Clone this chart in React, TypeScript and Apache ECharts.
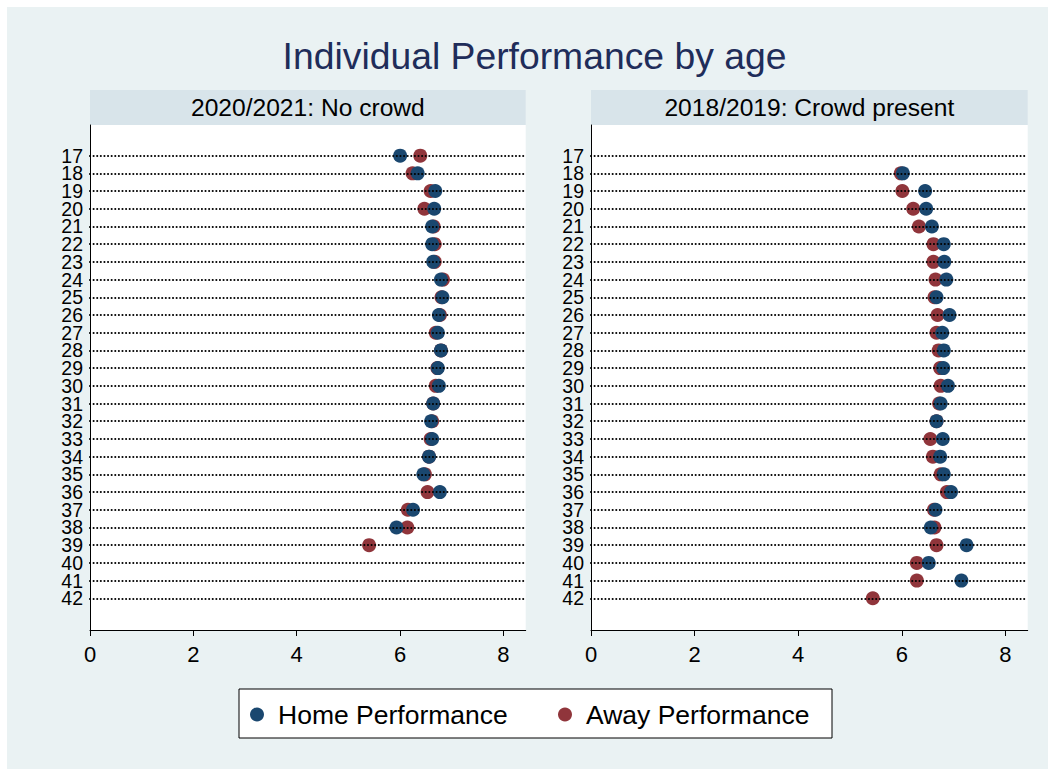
import React, { useEffect, useRef } from "react";
import * as echarts from "echarts";

const FONT = "'Liberation Sans', Arial, Helvetica, sans-serif";

const AGES = [17, 18, 19, 20, 21, 22, 23, 24, 25, 26, 27, 28, 29, 30, 31, 32, 33, 34, 35, 36, 37, 38, 39, 40, 41, 42];
const X_TICKS = [0, 2, 4, 6, 8];

const PANEL_TITLES = ["2020/2021: No crowd", "2018/2019: Crowd present"];
const SERIES_NAMES = ["Home Performance", "Away Performance"];

// 2020/2021: No crowd
const HOME_2021 = [6.0, 6.34, 6.68, 6.66, 6.62, 6.62, 6.64, 6.79, 6.82, 6.75, 6.73, 6.79, 6.73, 6.75, 6.64, 6.6, 6.62, 6.56, 6.45, 6.77, 6.25, 5.93, null, null, null, null];
const AWAY_2021 = [6.39, 6.24, 6.59, 6.47, 6.65, 6.67, 6.67, 6.83, 6.8, 6.77, 6.69, 6.79, 6.72, 6.69, 6.64, 6.62, 6.59, 6.56, 6.48, 6.53, 6.15, 6.14, 5.4, null, null, null];

// 2018/2019: Crowd present
const HOME_1819 = [null, 6.02, 6.45, 6.47, 6.58, 6.81, 6.82, 6.86, 6.67, 6.92, 6.78, 6.81, 6.8, 6.89, 6.75, 6.67, 6.79, 6.74, 6.81, 6.95, 6.65, 6.56, 7.25, 6.52, 7.15, null];
const AWAY_1819 = [null, 5.98, 6.01, 6.22, 6.33, 6.61, 6.61, 6.65, 6.63, 6.69, 6.67, 6.71, 6.74, 6.75, 6.72, 6.67, 6.55, 6.6, 6.75, 6.87, 6.62, 6.63, 6.67, 6.29, 6.29, 5.44];

const HOME_COLOR = "#1A476F";
const AWAY_COLOR = "#90353B";
const BG = "#EAF2F3";
const STRIP = "#D8E4EA";

const OFF = 7; // chart div offset inside page
const p = (v: number) => v - OFF;

const X_MAX = 8.43;
const Y_MIN = 15.27;
const Y_MAX = 43.79;

const GRID_TOP = 125;
const GRID_BOTTOM = 630;
const PANELS_X = [
  { left: 90, right: 525.7 },
  { left: 591, right: 1027.7 },
];

function pairs(vals: (number | null)[]) {
  const out: [number, number][] = [];
  vals.forEach((v, i) => {
    if (v !== null && v !== undefined) out.push([v, AGES[i]]);
  });
  return out;
}

function buildOption() {
  const data = [
    { home: HOME_2021, away: AWAY_2021 },
    { home: HOME_1819, away: AWAY_1819 },
  ];

  const grid = PANELS_X.map((g) => ({
    left: p(g.left),
    top: p(GRID_TOP),
    width: g.right - g.left,
    height: GRID_BOTTOM - GRID_TOP,
    show: true,
    backgroundColor: "#ffffff",
    borderWidth: 0,
  }));

  const xAxis = PANELS_X.map((_, i) => ({
    type: "value",
    gridIndex: i,
    min: 0,
    max: X_MAX,
    axisLine: { show: true, onZero: false, lineStyle: { color: "#000", width: 1 } },
    axisTick: { show: true, length: 6, customValues: X_TICKS, lineStyle: { color: "#000", width: 1 } },
    splitLine: { show: false },
    axisLabel: { customValues: X_TICKS, fontSize: 22, color: "#000", margin: 13, fontFamily: FONT },
  }));

  // extent values carry empty labels so that no age label is dropped by min/max overlap logic
  const yLabelValues = [Y_MIN, ...AGES, Y_MAX];
  const yAxis = PANELS_X.map((_, i) => ({
    type: "value",
    gridIndex: i,
    inverse: true,
    min: Y_MIN,
    max: Y_MAX,
    axisLine: { show: true, onZero: false, lineStyle: { color: "#000", width: 1 } },
    axisTick: { show: false },
    splitLine: { show: false },
    axisLabel: {
      customValues: yLabelValues,
      formatter: (v: number) => (AGES.indexOf(v) >= 0 ? String(v) : ""),
      showMinLabel: true,
      showMaxLabel: true,
      hideOverlap: false,
      fontSize: 19.5,
      lineHeight: 15,
      color: "#000",
      margin: 7,
      fontFamily: FONT,
    },
  }));

  const series: any[] = [];
  data.forEach((d, i) => {
    series.push({
      type: "scatter",
      name: "dots" + i,
      xAxisIndex: i,
      yAxisIndex: i,
      data: [],
      silent: true,
      z: 1,
      markLine: {
        silent: true,
        symbol: "none",
        label: { show: false },
        emphasis: { disabled: true },
        lineStyle: { color: "#000", width: 2.1, type: [0.01, 3.6], cap: "round" },
        data: AGES.map((a) => ({ yAxis: a })),
      },
    });
    series.push({
      type: "scatter",
      name: SERIES_NAMES[1],
      xAxisIndex: i,
      yAxisIndex: i,
      data: pairs(d.away),
      symbolSize: 14,
      itemStyle: { color: AWAY_COLOR, opacity: 1 },
      z: 3,
    });
    series.push({
      type: "scatter",
      name: SERIES_NAMES[0],
      xAxisIndex: i,
      yAxisIndex: i,
      data: pairs(d.home),
      symbolSize: 14,
      itemStyle: { color: HOME_COLOR, opacity: 1 },
      z: 4,
    });
  });

  const legendBase = {
    orient: "horizontal",
    padding: 0,
    itemWidth: 14,
    itemHeight: 14,
    icon: "circle",
    selectedMode: false,
    textStyle: { fontSize: 26.5, color: "#000", fontFamily: FONT, padding: [0, 0, 0, 9] },
  };

  const graphic: any[] = [
    {
      type: "text",
      x: p(534.5),
      y: p(56),
      style: {
        text: "Individual Performance by age",
        fontSize: 37.3,
        fontFamily: FONT,
        fill: "#1F2D5A",
        align: "center",
        verticalAlign: "middle",
      },
    },
    {
      type: "rect",
      shape: { x: p(239), y: p(689), width: 593, height: 49 },
      style: { fill: "#ffffff", stroke: "#000", lineWidth: 1 },
      z: 0,
    },
  ];
  PANELS_X.forEach((g, i) => {
    graphic.push({
      type: "rect",
      shape: { x: p(g.left), y: p(90), width: g.right - g.left, height: GRID_TOP - 90 },
      style: { fill: STRIP },
      z: 0,
    });
    graphic.push({
      type: "text",
      x: p((g.left + g.right) / 2),
      y: p(107),
      style: {
        text: PANEL_TITLES[i],
        fontSize: 24.6,
        fontFamily: FONT,
        fill: "#000",
        align: "center",
        verticalAlign: "middle",
      },
      z: 1,
    });
  });

  return {
    animation: false,
    backgroundColor: BG,
    textStyle: { fontFamily: FONT },
    grid,
    xAxis,
    yAxis,
    legend: [
      { ...legendBase, data: [SERIES_NAMES[0]], left: p(250), top: p(701) },
      { ...legendBase, data: [SERIES_NAMES[1]], left: p(558), top: p(701) },
    ],
    graphic,
    series,
  };
}

export default function App() {
  const ref = useRef<HTMLDivElement>(null);
  useEffect(() => {
    if (!ref.current) return;
    const chart = echarts.init(ref.current, undefined, { renderer: "svg" });
    chart.setOption(buildOption() as any);
    return () => chart.dispose();
  }, []);
  return (
    <div style={{ position: "fixed", left: 0, top: 0, width: 1048, height: 769, background: "#fff" }}>
      <div
        ref={ref}
        style={{ position: "absolute", left: OFF, top: OFF, width: 1048 - OFF, height: 769 - OFF }}
      />
    </div>
  );
}
